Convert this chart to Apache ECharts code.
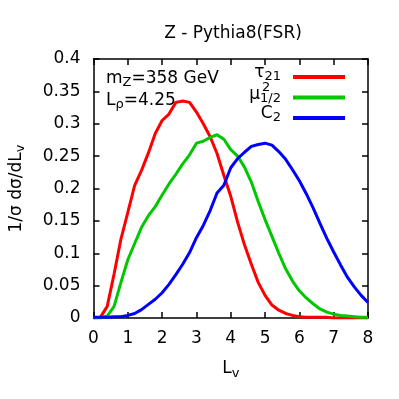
<!DOCTYPE html>
<html>
<head>
<meta charset="utf-8">
<script src="https://cdn.jsdelivr.net/npm/echarts@6/dist/echarts.min.js"></script>
<style>
  html, body { margin: 0; padding: 0; background: #fff; }
  #chart { width: 399px; height: 399px; }
</style>
</head>
<body>
<div id="chart"></div>
<script>
// L_v sampling points
const lv = [0, 0.2, 0.4, 0.6, 0.8, 1.0, 1.2, 1.4, 1.6, 1.8, 2.0, 2.2, 2.4, 2.6, 2.8, 3.0, 3.2, 3.4, 3.6, 3.8,
            4.0, 4.2, 4.4, 4.6, 4.8, 5.0, 5.2, 5.4, 5.6, 5.8, 6.0, 6.2, 6.4, 6.6, 6.8, 7.0, 7.2, 7.4, 7.6, 7.8, 8.0]

// tau_21
const tau21 = [0, 0.001, 0.018, 0.068, 0.122, 0.163, 0.205, 0.228, 0.255, 0.285, 0.305, 0.315, 0.333, 0.335, 0.333,
               0.318, 0.3, 0.28, 0.254, 0.22, 0.188, 0.148, 0.113, 0.083, 0.055, 0.035, 0.02, 0.012, 0.007, 0.004,
               0.002, 0.001, 0.001, 0.001, 0.001, 0, 0, 0, 0, 0, 0]

// mu^2_{1/2}
const mu2 = [0, 0, 0.003, 0.018, 0.055, 0.09, 0.115, 0.14, 0.158, 0.172, 0.19, 0.207, 0.222, 0.238, 0.252,
             0.27, 0.273, 0.279, 0.283, 0.276, 0.26, 0.25, 0.233, 0.21, 0.18, 0.152, 0.126, 0.1, 0.076, 0.057,
             0.042, 0.031, 0.022, 0.014, 0.009, 0.006, 0.004, 0.003, 0.002, 0.001, 0.001]

// C_2
const c2 = [0.001, 0.001, 0.001, 0.002, 0.002, 0.004, 0.007, 0.013, 0.021, 0.029, 0.039, 0.052, 0.067, 0.083, 0.101,
            0.124, 0.143, 0.166, 0.193, 0.205, 0.232, 0.246, 0.256, 0.265, 0.268, 0.27, 0.267, 0.257, 0.245, 0.229,
            0.212, 0.192, 0.17, 0.146, 0.123, 0.102, 0.082, 0.063, 0.048, 0.035, 0.024]

const seriesNames = ['tau21', 'mu2', 'c2']
const colors = ['#ff0000', '#00c800', '#0000ff']

const font = 'DejaVu Sans'
const pairs = (ys) => lv.map((x, i) => [x, ys[i]])

const chart = echarts.init(document.getElementById('chart'))

const axisCommon = {
    axisLine: { show: true, onZero: false, lineStyle: { color: '#000', width: 1.5 } },
    axisTick: { show: true, inside: true, length: 6, lineStyle: { color: '#000', width: 1.5 } },
    splitLine: { show: false }
}

const subRich = {
    b: { fontFamily: font, fontSize: 17, color: '#000' },
    s: { fontFamily: font, fontSize: 13, color: '#000', padding: [9, 0, 0, 0] }
}

const option = {
    animation: false,
    backgroundColor: '#fff',
    title: {
        text: 'Z - Pythia8(FSR)',
        left: 228,
        top: 20,
        textAlign: 'center',
        textStyle: { fontFamily: font, fontSize: 17, fontWeight: 'normal', color: '#000' }
    },
    grid: { left: 93, right: 31, top: 59, bottom: 81 },
    legend: {
        orient: 'vertical',
        left: 293,
        top: 75,
        padding: 0,
        icon: 'rect',
        itemWidth: 52,
        itemHeight: 4,
        itemGap: 16.5,
        formatter: () => '',
        data: seriesNames
    },
    xAxis: [
        Object.assign({
            type: 'value', min: 0, max: 8, interval: 1, position: 'bottom',
            name: '{b|L}{s|v}', nameLocation: 'middle', nameGap: 40,
            nameTextStyle: { rich: subRich },
            axisLabel: { margin: 12, fontFamily: font, fontSize: 17, color: '#000' }
        }, axisCommon),
        Object.assign({
            type: 'value', min: 0, max: 8, interval: 1, position: 'top',
            axisLabel: { show: false }
        }, axisCommon)
    ],
    yAxis: [
        Object.assign({
            type: 'value', min: 0, max: 0.4, interval: 0.05, position: 'left',
            name: '{b|1/σ dσ/dL}{s|v}', nameLocation: 'middle', nameGap: 66,
            nameTextStyle: { rich: subRich },
            axisLabel: { margin: 13, fontFamily: font, fontSize: 17, color: '#000' }
        }, axisCommon),
        Object.assign({
            type: 'value', min: 0, max: 0.4, interval: 0.05, position: 'right',
            axisLabel: { show: false }
        }, axisCommon)
    ],
    series: [tau21, mu2, c2].map((ys, i) => ({
        name: seriesNames[i],
        type: 'line',
        xAxisIndex: 0,
        yAxisIndex: 0,
        showSymbol: false,
        symbol: 'none',
        color: colors[i],
        lineStyle: { width: 3, color: colors[i] },
        data: pairs(ys)
    })),
    graphic: [
        { type: 'text', left: 106, top: 70,
          style: { text: '{b|m}{s|Z}{b|=358 GeV}', rich: subRich } },
        { type: 'text', left: 106, top: 92,
          style: { text: '{b|L}{s|ρ}{b|=4.25}', rich: subRich } },
        { type: 'text', right: 118, top: 64,
          style: { text: '{b|τ}{s|21}', rich: subRich } },
        { type: 'text', right: 118, top: 86,
          style: { text: '{b|μ}{s|1/2}', rich: subRich } },
        { type: 'text', left: 262, top: 81,
          style: { text: '2', fontFamily: font, fontSize: 13, fill: '#000' } },
        { type: 'text', right: 118, top: 105,
          style: { text: '{b|C}{s|2}', rich: subRich } }
    ]
}

chart.setOption(option)
</script>
</body>
</html>
